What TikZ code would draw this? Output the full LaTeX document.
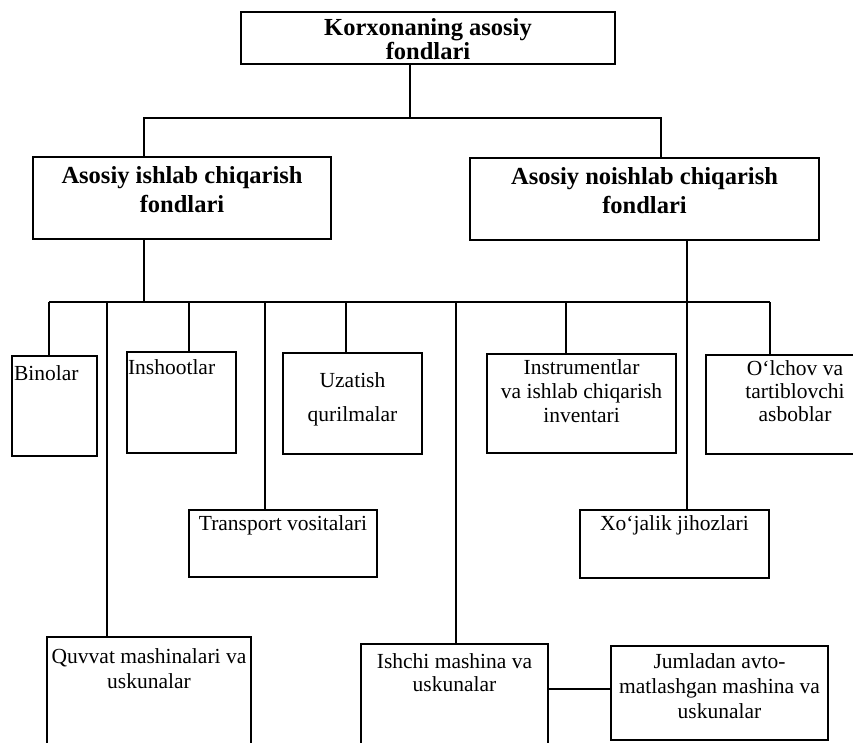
\documentclass[tikz,border=0pt]{standalone}
\usepackage{fontspec}
\setmainfont{Liberation Serif}
\newcommand\regf[1]{\fontsize{21.5}{#1}\selectfont}
\newcommand\bldf[1]{\fontsize{24.5}{#1}\selectfont\bfseries}
% width, height, first-baseline offset, alignment+font, text
\newcommand\bt[5]{\parbox[c][#2pt][t]{#1pt}{#4\rule{0pt}{#3pt}#5}}
\tikzset{
  box/.style={draw, line width=1.5pt, inner sep=0pt, outer sep=0pt, anchor=north west},
  wire/.style={line width=1.5pt}
}
\begin{document}
\begin{tikzpicture}[x=1pt,y=-1pt]
\useasboundingbox (0,0) rectangle (853,742);
\clip (0,0) rectangle (853,742);

% boxes
\node[box] (top) at (241,12) {\bt{374}{52}{23}{\centering\bldf{24}}{Korxonaning asosiy\\fondlari}};
\node[box] (lb) at (33,157) {\bt{298}{82}{26}{\centering\bldf{29}}{Asosiy ishlab chiqarish\\fondlari}};
\node[box] (rb) at (470,158) {\bt{349}{82}{26}{\centering\bldf{29}}{Asosiy noishlab chiqarish\\fondlari}};

\node[box] (bin) at (12,356) {\bt{85}{100}{24}{\raggedright\regf{24}\hspace*{2pt}}{Binolar}};
\node[box] (ins) at (127,352) {\bt{109}{101}{22}{\raggedright\regf{24}\hspace*{1pt}}{Inshootlar}};
\node[box] (uza) at (283,353) {\bt{139}{101}{34}{\centering\regf{34}}{Uzatish\\qurilmalar}};
\node[box] (inv) at (487,354) {\bt{189}{99}{20}{\centering\regf{24}}{Instrumentlar\\va ishlab chiqarish\\inventari}};
\node[box] (olc) at (706,355) {\bt{178}{99}{20}{\centering\regf{23}}{O‘lchov va\\tartiblovchi\\asboblar}};

\node[box] (tra) at (189,510) {\bt{188}{67}{20}{\centering\regf{24}}{Transport vositalari}};
\node[box] (xoj) at (580,510) {\bt{189}{68}{20}{\centering\regf{24}}{Xo‘jalik jihozlari}};

\node[box] (quv) at (47,637) {\bt{204}{140}{26}{\centering\regf{25}}{Quvvat mashinalari va\\uskunalar}};
\node[box] (ish) at (361,644) {\bt{187}{140}{24}{\centering\regf{23}}{Ishchi mashina va\\uskunalar}};
\node[box] (jum) at (611,646) {\bt{217}{94}{22}{\centering\regf{25}}{Jumladan avto-\\matlashgan mashina va\\uskunalar}};

% junction points
\coordinate (j0) at (410,118);
\coordinate (jl) at (144,118);
\coordinate (jr) at (661,118);
\coordinate (k0) at (144,302);
\coordinate (kl) at (49,302);
\coordinate (kr) at (770,302);
\coordinate (k1) at (107,302);
\coordinate (k2) at (189,302);
\coordinate (k3) at (265,302);
\coordinate (k4) at (346,302);
\coordinate (k5) at (456,302);
\coordinate (k6) at (566,302);
\coordinate (xr) at (687,302);
\coordinate (m) at (580,689);

% connectors
\draw[wire] (top.south -| j0) -- (j0);
\draw[wire] (lb.north -| jl) -- (jl) -- (jr) -- (rb.north -| jr);
\draw[wire] (lb.south -| k0) -- (k0);
\draw[wire] (kl) -- (kr);
\draw[wire] (kl) -- (bin.north -| kl);
\draw[wire] (k1) -- (quv.north -| k1);
\draw[wire] (k2) -- (ins.north -| k2);
\draw[wire] (k3) -- (tra.north -| k3);
\draw[wire] (k4) -- (uza.north -| k4);
\draw[wire] (k5) -- (ish.north -| k5);
\draw[wire] (k6) -- (inv.north -| k6);
\draw[wire] (kr) -- (olc.north -| kr);
\draw[wire] (rb.south -| xr) -- (xoj.north -| xr);
\draw[wire] (ish.east |- m) -- (jum.west |- m);
\end{tikzpicture}
\end{document}
